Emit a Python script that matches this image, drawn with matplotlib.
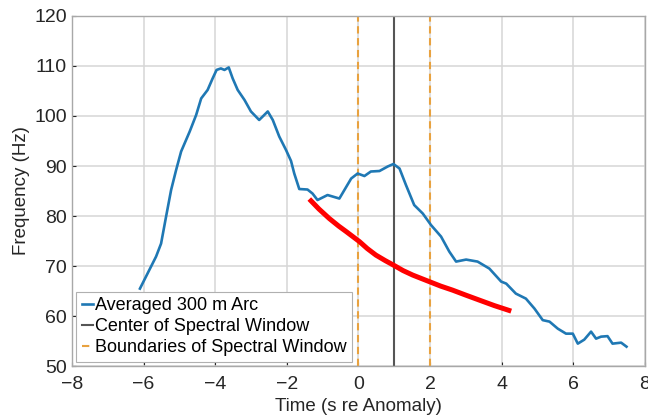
import matplotlib
matplotlib.use("Agg")
import matplotlib.pyplot as plt

plt.rcParams['font.family'] = ['Liberation Sans', 'DejaVu Sans']

# Averaged 300 m Arc
t_arc = [-6.10, -5.84, -5.65, -5.51, -5.37, -5.23, -5.09, -4.95, -4.71, -4.53, -4.39, -4.21,
         -4.07, -3.96, -3.84, -3.74, -3.62, -3.51, -3.37, -3.18, -3.00, -2.77, -2.67, -2.53,
         -2.39, -2.21, -2.02, -1.88, -1.79, -1.65, -1.42, -1.28, -1.14, -0.86, -0.53, -0.20,
         -0.02, 0.17, 0.35, 0.59, 0.82, 0.98, 1.15, 1.33, 1.56, 1.80, 2.03, 2.31, 2.54, 2.73,
         3.01, 3.33, 3.66, 3.99, 4.13, 4.40, 4.68, 4.92, 5.15, 5.34, 5.57, 5.80, 5.99, 6.13,
         6.31, 6.50, 6.64, 6.78, 6.96, 7.10, 7.34, 7.49]
f_arc = [65.5, 69.2, 71.9, 74.5, 79.9, 85.2, 89.2, 92.9, 96.9, 100.2, 103.5, 105.2,
         107.5, 109.2, 109.5, 109.2, 109.7, 107.5, 105.2, 103.2, 100.9, 99.2, 99.9, 100.9,
         99.2, 95.9, 93.2, 91.0, 88.5, 85.4, 85.3, 84.5, 83.2, 84.2, 83.5, 87.5,
         88.5, 88.0, 88.9, 89.0, 89.9, 90.4, 89.5, 86.2, 82.2, 80.5, 78.2, 75.9, 72.9, 70.9,
         71.3, 70.9, 69.5, 66.9, 66.5, 64.5, 63.5, 61.5, 59.2, 58.9, 57.5, 56.5, 56.5, 54.5,
         55.3, 56.9, 55.5, 55.9, 56.0, 54.5, 54.7, 53.9]

# Red annotation curve
t_red = [-1.37, -1.10, -0.81, -0.55, -0.34, 0.03, 0.25, 0.49, 0.75, 0.98, 1.25, 1.52,
         1.98, 2.30, 2.63, 3.00, 3.38, 3.80, 4.27]
f_red = [83.4, 81.4, 79.5, 78.0, 76.9, 74.9, 73.5, 72.2, 71.1, 70.2, 69.1, 68.2,
         66.9, 66.0, 65.2, 64.2, 63.2, 62.1, 61.0]

center_t = 1
bounds_t = [0, 2]

xticks = [-8, -6, -4, -2, 0, 2, 4, 6, 8]
yticks = [50, 60, 70, 80, 90, 100, 110, 120]

fig = plt.figure(figsize=(6.48, 4.18), dpi=100)
ax = fig.add_axes([0.111, 0.124, 0.884, 0.838])

ax.plot(t_arc, f_arc, color='#1f78b4', lw=1.9, label='Averaged 300 m Arc', zorder=3)
ax.axvline(center_t, color='#555555', lw=1.5, label='Center of Spectral Window', zorder=2)
for i, b in enumerate(bounds_t):
    ax.axvline(b, color='#e8a23f', lw=1.5, ls=(0, (3.5, 2.2)),
               label='Boundaries of Spectral Window' if i == 0 else None, zorder=2)
ax.plot(t_red, f_red, color='#ff0000', lw=3.6, solid_capstyle='butt', zorder=4)

ax.set_xlim(-8, 8)
ax.set_ylim(50, 120)
ax.set_xticks(xticks)
ax.set_yticks(yticks)
ax.tick_params(direction='in', length=3, labelsize=14, colors='#262626', width=0.8)
ax.tick_params(axis='x', pad=7)
ax.grid(True, color='#d6d6d6', lw=1.1)
ax.set_axisbelow(True)
for s in ax.spines.values():
    s.set_color('#a8a8a8')
    s.set_linewidth(1.0)

ax.set_xlabel('Time (s re Anomaly)', fontsize=13.5, color='#262626', labelpad=4)
ax.set_ylabel('Frequency (Hz)', fontsize=13.5, color='#262626', labelpad=3)

leg = ax.legend(loc='lower left', fontsize=13, handlelength=0.6, handletextpad=0.15,
                borderaxespad=0.25, borderpad=0.3, labelspacing=0.22, fancybox=False,
                framealpha=1, edgecolor='#b0b0b0')
leg.get_frame().set_linewidth(0.8)

fig.savefig('out.png', dpi=100)
